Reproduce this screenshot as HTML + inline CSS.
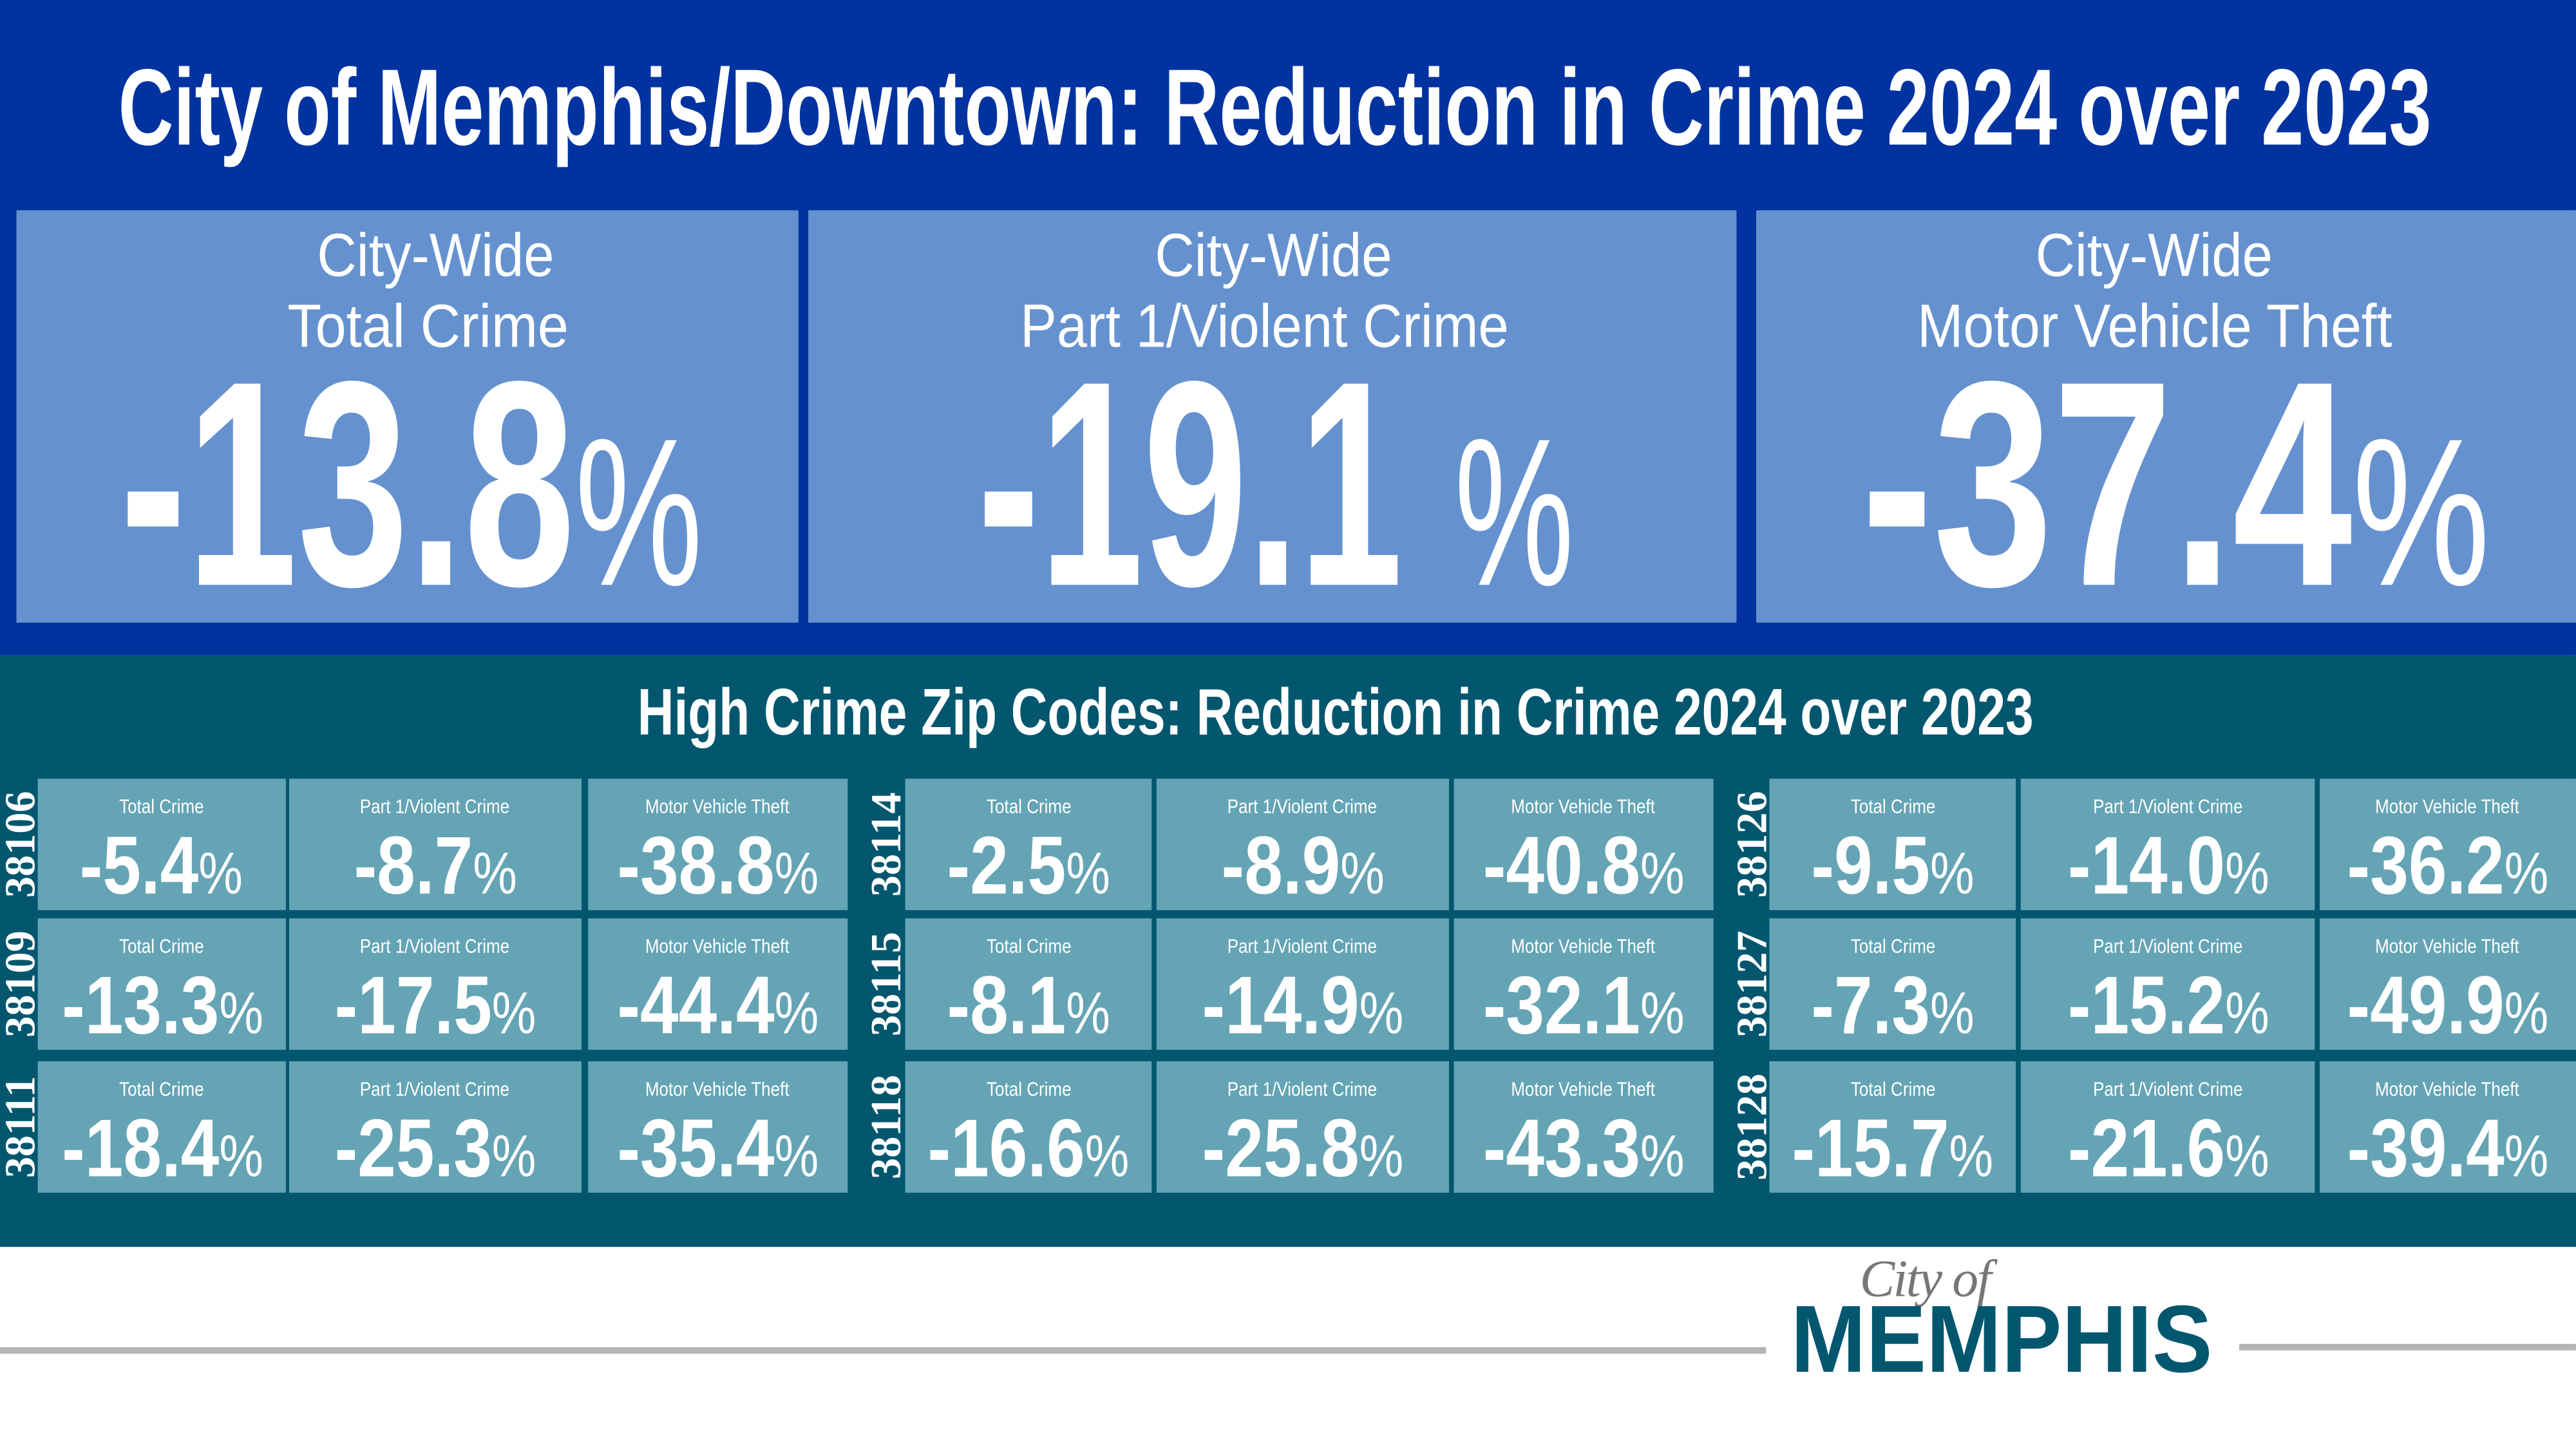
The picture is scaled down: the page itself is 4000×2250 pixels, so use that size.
<!DOCTYPE html>
<html><head><meta charset="utf-8"><style>
*{margin:0;padding:0;box-sizing:border-box}
html,body{width:4000px;height:2250px;overflow:hidden;background:#fff}
#stage{position:absolute;left:0;top:0;width:1568px;height:882px;transform:scale(2.5510);transform-origin:0 0;font-family:"Liberation Sans",sans-serif;color:#fff;overflow:hidden}
.abs{position:absolute}
.fit{position:absolute;white-space:nowrap;line-height:1;transform-origin:0 0}
.box{position:absolute;top:128px;height:251px;background:#6592cf;text-align:center}
.lbl{font-size:37px;font-weight:normal}
.big{font-size:178px;font-weight:bold}
.pct{font-size:128px;font-weight:normal}
.cell{position:absolute;background:#64a4b5;text-align:center}
.cell .cl{position:absolute;left:0;right:0;top:10px;font-size:12px}
.cell .cl span{display:inline-block;transform:scaleX(0.85)}
.cell .cv{position:absolute;left:0;right:0;top:53px;height:0;white-space:nowrap}
.cv .n{display:inline-block;font-size:50px;line-height:0;font-weight:bold;transform:scaleX(0.84)}
.cv .p{font-size:36px;font-weight:normal}
.zip{position:absolute;width:80px;height:22px;font-family:"Liberation Serif",serif;font-weight:bold;font-size:26px;line-height:22px;text-align:center;transform:rotate(-90deg)}
</style></head><body>
<div id="stage">
  <div class="abs" style="left:0;top:0;width:1568px;height:399px;background:#0033a0"></div>
  <div class="fit" data-fit="72,1408" style="top:32px;font-size:66px;font-weight:bold">City of Memphis/Downtown: Reduction in Crime 2024 over 2023</div>

  <div class="box" style="left:10px;width:476px"></div>
  <div class="box" style="left:492px;width:565px"></div>
  <div class="box" style="left:1069px;width:499px"></div>

  <div class="fit lbl" data-fit="193,144" style="top:137px">City-Wide</div>
  <div class="fit lbl" data-fit="175,171" style="top:180px">Total Crime</div>
  <div class="fit big" data-fit="73,355" style="top:206px">-13.8<span class="pct">%</span></div>

  <div class="fit lbl" data-fit="703,144" style="top:137px">City-Wide</div>
  <div class="fit lbl" data-fit="621,297" style="top:180px">Part 1/Violent Crime</div>
  <div class="fit big" data-fit="595,363" style="top:206px">-19.1 <span class="pct">%</span></div>

  <div class="fit lbl" data-fit="1239,144" style="top:137px">City-Wide</div>
  <div class="fit lbl" data-fit="1167,289" style="top:180px">Motor Vehicle Theft</div>
  <div class="fit big" data-fit="1133,383" style="top:206px">-37.4<span class="pct">%</span></div>

  <div class="abs" style="left:0;top:399px;width:1568px;height:360px;background:#02576f"></div>
  <div class="fit" data-fit="388,850" style="top:414px;font-size:40px;font-weight:bold">High Crime Zip Codes: Reduction in Crime 2024 over 2023</div>

  <div class="abs" style="left:0;top:820px;width:1075px;height:4px;background:#b5b5b5"></div>
  <div class="abs" style="left:1363px;top:818px;width:205px;height:4px;background:#b5b5b5"></div>
  <div class="abs" style="left:1132px;top:760px;font-family:'Liberation Serif',serif;font-style:italic;font-size:32px;color:#777;letter-spacing:-1px">City of</div>
  <div class="fit" data-fit="1090,257" style="top:787px;font-weight:bold;font-size:58px;color:#02576f">MEMPHIS</div>
</div>
<script>
const zips=["38106","38109","38111","38114","38115","38118","38126","38127","38128"];
const categories=["Total Crime","Part 1/Violent Crime","Motor Vehicle Theft"];
const totalCrime=[-5.4,-13.3,-18.4,-2.5,-8.1,-16.6,-9.5,-7.3,-15.7];
const violentCrime=[-8.7,-17.5,-25.3,-8.9,-14.9,-25.8,-14.0,-15.2,-21.6];
const vehicleTheft=[-38.8,-44.4,-35.4,-40.8,-32.1,-43.3,-36.2,-49.9,-39.4];
const stage=document.getElementById('stage');
const groupX=[[3,23,176,358],[530,551,704,885],[1057,1077,1230,1412]];
const colW=[[151,178,158],[150,178,158],[150,179,156]];
const rowY=[474,559,646];
const rowH=80;
zips.forEach((z,i)=>{
  const g=Math.floor(i/3), r=i%3;
  const gx=groupX[g];
  const zl=document.createElement('div');
  zl.className='zip';
  
  
  zl.style.left=(gx[0]+10-40)+'px';
  zl.style.top=(rowY[r]+rowH/2-11)+'px';
  zl.textContent=z;
  stage.appendChild(zl);
  const vals=[totalCrime[i],violentCrime[i],vehicleTheft[i]];
  vals.forEach((v,c)=>{
    const cell=document.createElement('div');
    cell.className='cell';
    
    
    cell.style.left=gx[c+1]+'px';
    cell.style.top=rowY[r]+'px';
    cell.style.width=colW[g][c]+'px';
    cell.style.height=rowH+'px';
    cell.innerHTML='<div class="cl"><span>'+categories[c]+'</span></div><div class="cv"><span class="n">'+v.toFixed(1)+'<span class="p">%</span></span></div>';
    stage.appendChild(cell);
  });
});
document.querySelectorAll('[data-fit]').forEach(el=>{
  const [x,w]=el.getAttribute('data-fit').split(',').map(Number);
  el.style.left=x+'px';
  const s=w/el.offsetWidth;
  el.style.transform='scaleX('+s+')';
});
</script>
</body></html>
